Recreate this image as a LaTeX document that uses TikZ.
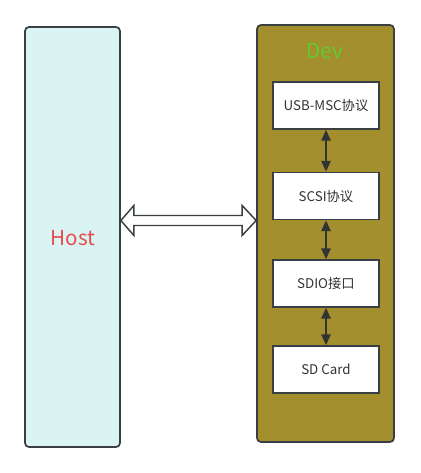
\documentclass[tikz,border=0pt]{standalone}
\usepackage{fontspec}
\setmainfont{Noto Sans CJK SC}
\usetikzlibrary{arrows.meta,calc}
\definecolor{hostfill}{HTML}{DAF4F4}
\definecolor{devfill}{HTML}{A38F2D}
\definecolor{edge}{HTML}{3A3F44}
\definecolor{hosttext}{HTML}{E84C4C}
\definecolor{devtext}{HTML}{5FCC30}
\tikzset{
  outerbox/.style={draw=edge, line width=1.3pt, rounded corners=3pt, inner sep=0pt},
  innerbox/.style={draw=edge, fill=white, line width=1.3pt, minimum width=106*0.75pt, minimum height=47*0.75pt, inner sep=0pt, font=\fontsize{10}{12}\selectfont, text=black!80},
  link/.style={draw=black!80, line width=1.1pt, {Triangle[length=8pt,width=7pt]}-{Triangle[length=8pt,width=7pt]}},
  bigarrow/.style={draw=edge, fill=white, line width=1.1pt, line join=miter}
}
\begin{document}
\begin{tikzpicture}[x=0.75pt,y=-0.75pt]
\useasboundingbox (0,0) rectangle (420,473);
\node[outerbox, fill=hostfill, minimum width=95*0.75pt, minimum height=420*0.75pt] (host) at (72.5,237) {};
\node[text=hosttext, font=\fontsize{15.5}{18}\selectfont] (hostlabel) at (73,238) {Host};
\node[outerbox, fill=devfill, minimum width=137*0.75pt, minimum height=417*0.75pt] (dev) at (325.5,233.5) {};
\node[text=devtext, font=\fontsize{15.5}{18}\selectfont] (devlabel) at (325,51) {Dev};
\node[innerbox] (usb) at (326,105.5) {USB-MSC协议};
\node[innerbox] (scsi) at (326,196) {SCSI协议};
\node[innerbox] (sdio) at (326,283.5) {SDIO接口};
\node[innerbox] (sd) at (326,369.5) {SD Card};
\draw[link] (usb.south) -- (scsi.north);
\draw[link] (scsi.south) -- (sdio.north);
\draw[link] (sdio.south) -- (sd.north);
\coordinate (L) at (host.east |- 0,220.5);
\coordinate (R) at (dev.west |- 0,220.5);
\draw[bigarrow] (L) -- ++(13,-15) -- ++(0,10) -- ($(R)+(-14,-5)$) -- ++(0,-10) -- (R) -- ++(-14,15) -- ++(0,-10) -- ($(L)+(13,5)$) -- ++(0,10) -- cycle;
\end{tikzpicture}
\end{document}
